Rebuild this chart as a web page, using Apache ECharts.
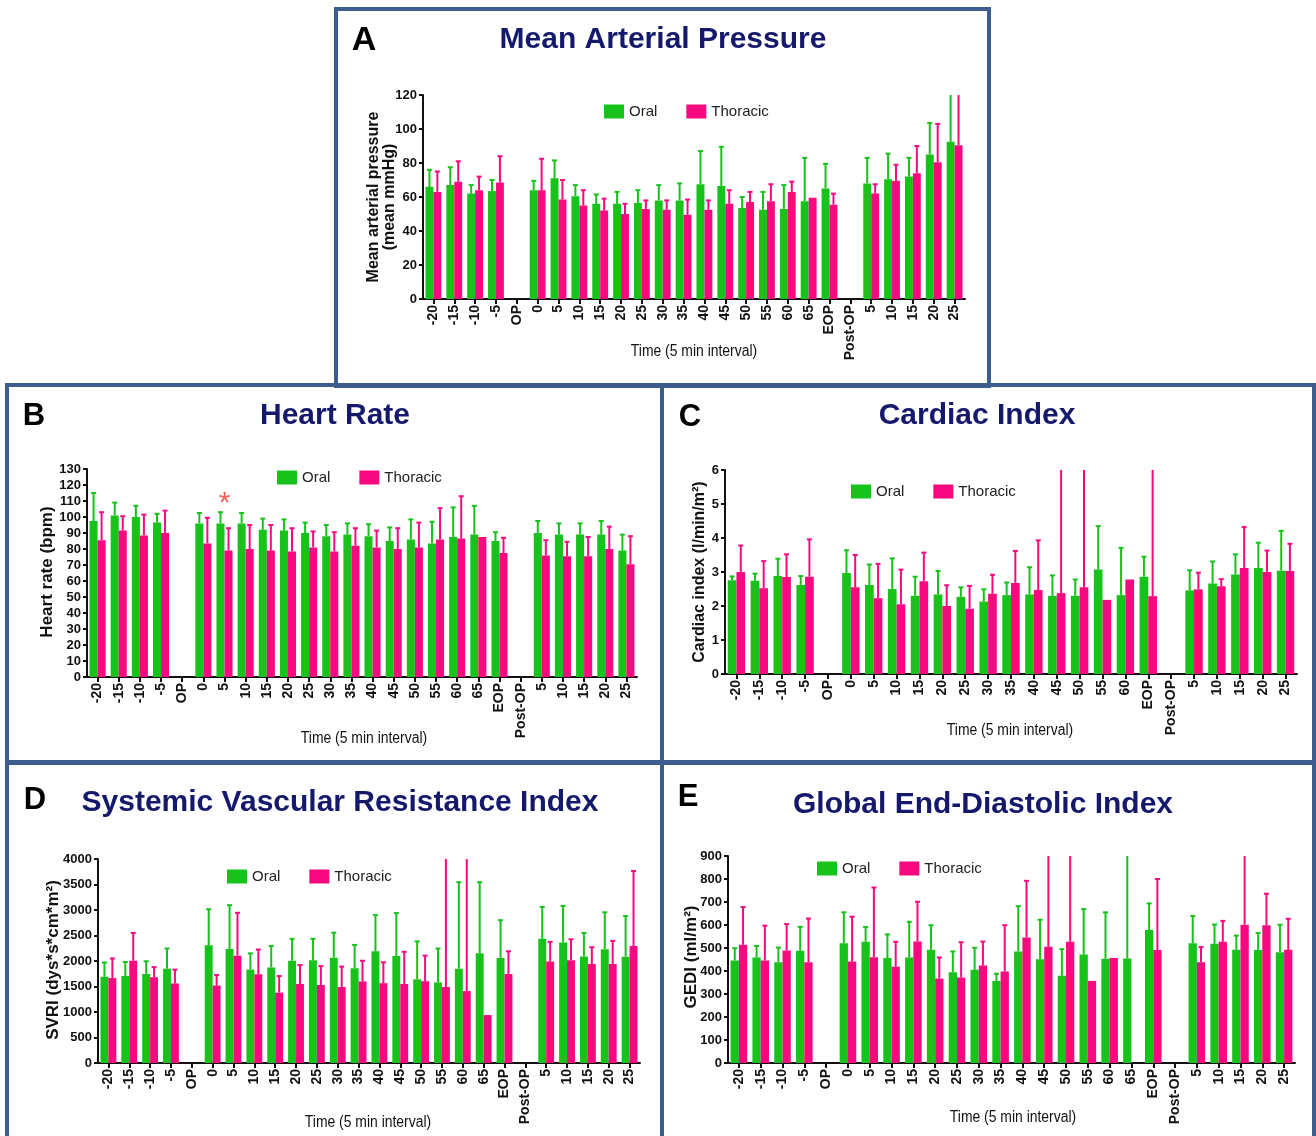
<!DOCTYPE html>
<html><head><meta charset="utf-8">
<script src="https://cdn.jsdelivr.net/npm/echarts@6/dist/echarts.min.js"></script>
<style>html,body{margin:0;padding:0;background:#fff}#c{width:1316px;height:1136px}</style>
</head><body><div id="c"></div>
<script>
// ---------- category labels ----------
const timeLabels = ['-20','-15','-10','-5','OP','0','5','10','15','20','25','30','35','40','45','50','55','60','65','EOP','Post-OP','5','10','15','20','25'];
const timeLabelsCI = ['-20','-15','-10','-5','OP','0','5','10','15','20','25','30','35','40','45','50','55','60','EOP','Post-OP','5','10','15','20','25'];

// ---------- A: Mean arterial pressure ----------
const mapOral   = [66,67,62,63.5,null,64,71,60.5,56,56,56.5,58,58,67.5,66.5,53.5,52.5,53,57.5,65,null,68,70.5,72,85,92.5];
const mapOralHi = [76,77.5,67,70,null,69.5,81.5,67,61.5,63,64,67,68,87,89.5,60,63,67,83,79.5,null,83,85.5,83,103.5,120];
const mapThor   = [63,69,64,68.5,null,64,58.5,55,52,50,53,52.5,49.5,52.5,56,57,57.5,63,59.5,55.5,null,62,69.5,74,80.5,90.5];
const mapThorHi = [75,81,72,84,null,82.5,70,64,59,56,58,58,58.5,58,64,63,67.5,69,null,62,null,67.5,79,90,103,120];

// ---------- B: Heart rate ----------
const hrOral   = [97.5,101,100,96.5,null,96,96,96,92,91.5,90,88,89,88,85,86,83.5,87.5,89,85,null,90,89,89,89,79];
const hrOralHi = [115,109,107,102,null,102.5,103,102.5,99,98.5,96.5,95,96,95.5,93.5,98.5,97,106,107,90.5,null,97.5,96,96,97.5,89];
const hrThor   = [85.5,91.5,88.5,90,null,83.5,79,80,79,78.5,81,78.5,82,81,80,81,86,86.5,87.5,77.5,null,76,75.5,75.5,80,70.5];
const hrThorHi = [103,100.5,101.5,104,null,99.5,93,95,95,93,91,90.5,93,91.5,93,96.5,105.5,113,null,87,null,85.5,84.5,87.5,94,88];
const hrStar   = [[6, 108]];

// ---------- C: Cardiac index ----------
const ciOral   = [2.76,2.74,2.88,2.62,null,2.97,2.62,2.5,2.3,2.34,2.27,2.13,2.32,2.34,2.3,2.3,3.07,2.32,2.86,null,2.46,2.66,2.93,3.12,3.04];
const ciOralHi = [2.87,2.95,3.39,2.88,null,3.64,3.22,3.4,2.86,3.03,2.55,2.49,2.69,3.14,2.9,2.78,4.35,3.71,3.45,null,3.05,3.31,3.52,3.86,4.21];
const ciThor   = [3.0,2.52,2.85,2.86,null,2.55,2.23,2.05,2.73,2.0,1.92,2.36,2.68,2.47,2.38,2.55,2.18,2.78,2.29,null,2.49,2.58,3.12,3.0,3.03];
const ciThorHi = [3.78,3.32,3.52,3.96,null,3.5,3.24,3.07,3.57,2.61,2.59,2.92,3.62,3.93,6,6,null,null,6,null,2.98,2.79,4.32,3.63,3.83];

// ---------- D: SVRI ----------
const svriOral   = [1690,1705,1745,1850,null,2310,2235,1835,1875,2005,2015,2065,1860,2190,2100,1640,1580,1850,2150,2060,null,2435,2365,2090,2230,2085];
const svriOralHi = [1970,1980,1995,2245,null,3015,3095,2150,2295,2435,2435,2555,2315,2900,2940,2385,2245,3545,3545,2800,null,3060,3080,2550,2955,2880];
const svriThor   = [1665,2005,1680,1560,null,1520,2105,1740,1380,1550,1530,1490,1600,1565,1550,1605,1490,1410,940,1745,null,1990,2015,1940,1940,2295];
const svriThorHi = [2050,2550,1880,1830,null,1725,2945,2225,1705,1920,1900,1890,2005,1975,2180,2105,4000,4000,null,2190,null,2375,2425,2270,2395,3765];

// ---------- E: GEDI ----------
const gediOral   = [446,459,438,488,null,521,527,456,459,492,395,405,357,485,451,379,472,453,454,578,null,521,518,492,491,482];
const gediOralHi = [499,509,502,592,null,655,591,559,614,599,485,501,388,682,623,495,669,655,900,694,null,639,602,554,565,601];
const gediThor   = [514,446,489,438,null,441,460,418,528,367,372,424,398,546,505,527,357,457,null,491,null,438,527,601,599,492];
const gediThorHi = [678,597,604,628,null,636,763,527,701,459,525,528,599,792,900,900,null,null,null,800,null,504,618,900,736,627];

// ---------- styling / layout ----------
const GREEN = '#17c21b', PINK = '#f70a80', NAVY = '#14196b', BORDER = '#3d5d8f';
const ARIAL = "'Liberation Sans',Arial,Helvetica,sans-serif";

const panels = [
  {cats: timeLabels, oral: mapOral, oralHi: mapOralHi, thor: mapThor, thorHi: mapThorHi, max: 120, interval: 20,
   grid: {left: 423, top: 95, width: 542, height: 204}, legend: {left: 604, top: 104},
   title: 'Mean Arterial Pressure', titlePos: [663, 40], letter: 'A', letterPos: [364, 41], letterSize: 34,
   yName: 'Mean arterial pressure\n(mean mmHg)', yNamePos: [382, 197], yNameSize: 16,
   xNamePos: [694, 352]},
  {cats: timeLabels, oral: hrOral, oralHi: hrOralHi, thor: hrThor, thorHi: hrThorHi, max: 130, interval: 10,
   grid: {left: 87, top: 469, width: 550, height: 208}, legend: {left: 277, top: 470},
   title: 'Heart Rate', titlePos: [335, 416], letter: 'B', letterPos: [34, 416], letterSize: 31,
   yName: 'Heart rate (bpm)', yNamePos: [47, 572], yNameSize: 17,
   xNamePos: [364, 739]},
  {cats: timeLabelsCI, oral: ciOral, oralHi: ciOralHi, thor: ciThor, thorHi: ciThorHi, max: 6, interval: 1,
   grid: {left: 725, top: 470, width: 572, height: 204}, legend: {left: 851, top: 484},
   title: 'Cardiac Index', titlePos: [977, 416], letter: 'C', letterPos: [690, 417], letterSize: 31,
   yName: 'Cardiac index (l/min/m²)', yNamePos: [700, 572], yNameSize: 16,
   xNamePos: [1010, 731]},
  {cats: timeLabels, oral: svriOral, oralHi: svriOralHi, thor: svriThor, thorHi: svriThorHi, max: 4000, interval: 500,
   grid: {left: 98, top: 859, width: 542, height: 204}, legend: {left: 227, top: 869},
   title: 'Systemic Vascular Resistance Index', titlePos: [340, 803], letter: 'D', letterPos: [35, 800], letterSize: 31,
   yName: 'SVRI (dys*s*cm*m²)', yNamePos: [53, 960], yNameSize: 17,
   xNamePos: [368, 1123]},
  {cats: timeLabels, oral: gediOral, oralHi: gediOralHi, thor: gediThor, thorHi: gediThorHi, max: 900, interval: 100,
   grid: {left: 728, top: 856, width: 567, height: 207}, legend: {left: 817, top: 861},
   title: 'Global End-Diastolic Index', titlePos: [983, 805], letter: 'E', letterPos: [688, 797], letterSize: 31,
   yName: 'GEDI (ml/m²)', yNamePos: [691, 957], yNameSize: 17,
   xNamePos: [1013, 1118]}
];

function errRender(sign, color, max) {
  return function (params, api) {
    const k = api.value(0), v = api.value(1), hi = api.value(2);
    if (isNaN(v) || isNaN(hi)) return null;
    const band = api.size([1, 0])[0];
    const base = api.coord([k, v]);
    const top = api.coord([k, Math.min(hi, max)]);
    const x = base[0] + sign * band * 0.19;
    const children = [{type: 'line', shape: {x1: x, y1: base[1], x2: x, y2: top[1]},
                       style: {stroke: color, lineWidth: 2}}];
    if (hi < max) {
      children.push({type: 'line', shape: {x1: x - 2.5, y1: top[1], x2: x + 2.5, y2: top[1]},
                     style: {stroke: color, lineWidth: 2}});
    }
    return {type: 'group', children: children};
  };
}

function txt(text, pos, font, fill, rot, lineHeight, sx) {
  return {type: 'text', x: pos[0], y: pos[1], rotation: rot || 0, scaleX: sx || 1, silent: true,
    style: {text: text, font: font, fill: fill, align: 'center', verticalAlign: 'middle',
            textAlign: 'center', textVerticalAlign: 'middle', lineHeight: lineHeight || undefined}};
}

const grids = [], xAxes = [], yAxes = [], legends = [], series = [], graphics = [];

// borders
[[336, 9, 653, 377], [7, 385, 655, 377], [662, 385, 652, 377], [7, 763, 655, 400], [662, 763, 652, 400]]
  .forEach(r => graphics.push({type: 'rect', silent: true, shape: {x: r[0], y: r[1], width: r[2], height: r[3]},
    style: {fill: 'none', stroke: BORDER, lineWidth: 4}}));

panels.forEach((p, i) => {
  grids.push(Object.assign({containLabel: false}, p.grid));
  xAxes.push({type: 'category', gridIndex: i, data: p.cats,
    axisLine: {show: true, lineStyle: {color: '#111', width: 2}},
    axisTick: {show: true, alignWithLabel: true, length: 5, lineStyle: {color: '#111', width: 2}},
    axisLabel: {interval: 0, rotate: 90, margin: 6, fontFamily: ARIAL, fontWeight: 'bold', fontSize: 14, color: '#111'},
    splitLine: {show: false}});
  yAxes.push({type: 'value', gridIndex: i, min: 0, max: p.max, interval: p.interval,
    axisLine: {show: true, lineStyle: {color: '#111', width: 2}},
    axisTick: {show: true, length: 4, lineStyle: {color: '#111', width: 2}},
    axisLabel: {margin: 6, fontFamily: ARIAL, fontWeight: 'bold', fontSize: 13, color: '#111',
                formatter: v => String(v)},
    splitLine: {show: false}});
  legends.push({data: ['Oral', 'Thoracic'], left: p.legend.left, top: p.legend.top, padding: 0,
    icon: 'rect', itemWidth: 20, itemHeight: 14, itemGap: 29, selectedMode: false,
    textStyle: {fontFamily: ARIAL, fontSize: 15, color: '#222'}});
  series.push({type: 'bar', name: 'Oral', xAxisIndex: i, yAxisIndex: i, data: p.oral,
    itemStyle: {color: GREEN}, barGap: '0%', barCategoryGap: '24%'});
  series.push({type: 'bar', name: 'Thoracic', xAxisIndex: i, yAxisIndex: i, data: p.thor,
    itemStyle: {color: PINK}, barGap: '0%', barCategoryGap: '24%'});
  series.push({type: 'custom', name: 'Oral SD', xAxisIndex: i, yAxisIndex: i, clip: true, z: 3,
    renderItem: errRender(-1, GREEN, p.max), encode: {x: 0, y: [1, 2]},
    data: p.oral.map((v, k) => [k, v, p.oralHi[k]])});
  series.push({type: 'custom', name: 'Thoracic SD', xAxisIndex: i, yAxisIndex: i, clip: true, z: 3,
    renderItem: errRender(1, PINK, p.max), encode: {x: 0, y: [1, 2]},
    data: p.thor.map((v, k) => [k, v, p.thorHi[k]])});
  graphics.push(txt(p.title, p.titlePos, 'bold 30px ' + ARIAL, NAVY));
  graphics.push(txt(p.letter, p.letterPos, 'bold ' + p.letterSize + 'px ' + ARIAL, '#000'));
  graphics.push(txt(p.yName, p.yNamePos, 'bold ' + p.yNameSize + 'px ' + ARIAL, '#111', Math.PI / 2, 16));
  graphics.push(txt('Time (5 min interval)', p.xNamePos, '16px ' + ARIAL, '#111', 0, 0, 0.87));
});

series.push({type: 'scatter', name: 'sig', xAxisIndex: 1, yAxisIndex: 1, data: hrStar, symbolSize: 1,
  itemStyle: {color: 'rgba(0,0,0,0)'}, silent: true,
  label: {show: true, formatter: '*', position: 'inside', color: '#e63b2e', fontSize: 30, fontFamily: ARIAL}});

const chart = echarts.init(document.getElementById('c'), null, {renderer: 'canvas'});
chart.setOption({
  backgroundColor: '#fff', animation: false,
  grid: grids, xAxis: xAxes, yAxis: yAxes, legend: legends, series: series, graphic: graphics
});
</script></body></html>
